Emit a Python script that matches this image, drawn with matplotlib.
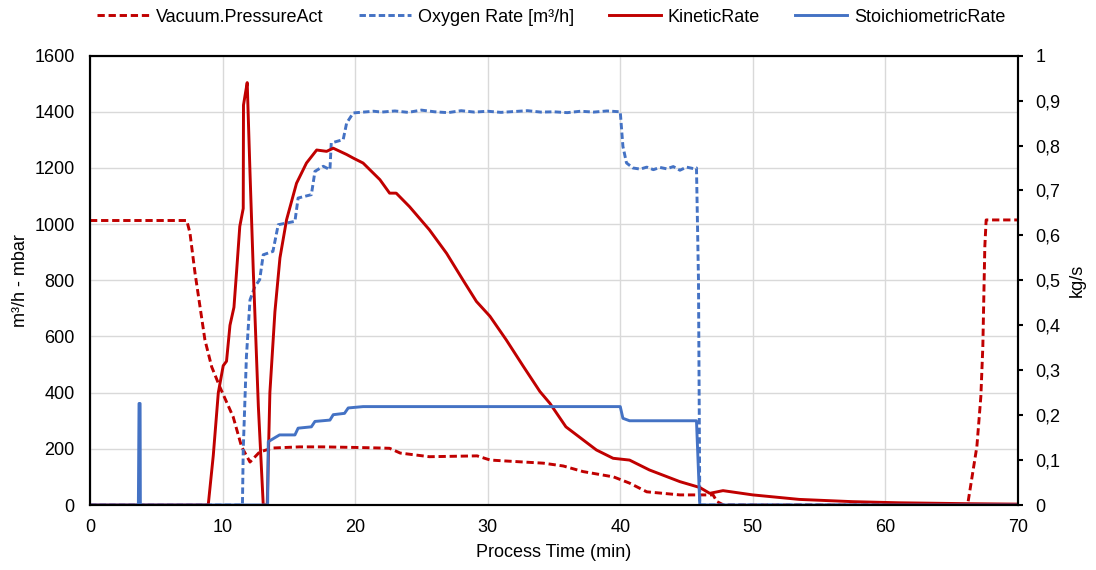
import matplotlib
matplotlib.use("Agg")
from matplotlib import pyplot as plt
from matplotlib.ticker import FuncFormatter

plt.rcParams["font.family"] = ["Liberation Sans", "DejaVu Sans"]

RED = "#C00000"
BLUE = "#4472C4"

# Vacuum.PressureAct (mbar, left axis)
vac_t = [0, 7.3, 7.54, 7.92, 8.3, 8.67, 9.18, 9.8, 10.8, 11.44, 12.07, 12.8, 13.8, 15.8,
         17.6, 20, 21.9, 22.6, 23.4, 25.6, 29.2, 30.2, 34.2, 35.7, 37.2, 39.5, 40.7, 42.0,
         44.5, 47.0, 47.3, 47.8, 66.2, 66.9, 67.2, 67.35, 67.5, 67.6, 70]
vac_p = [1013, 1013, 969, 827, 706, 588, 492, 420, 314, 207, 153, 189, 203, 207,
         207, 205, 203, 202, 185, 172, 175, 160, 149, 139, 119, 100, 78, 47,
         36, 36, 12, 0, 0, 208, 386, 564, 920, 1015, 1015]

# Oxygen Rate [m³/h] (left axis)
oxy_t = [0, 11.5, 11.56, 11.8, 12.07, 12.44, 12.8, 13.07, 13.8, 14.2, 15.46, 15.7, 16.7,
         16.97, 17.6, 18.1, 18.2, 19.1, 19.36, 19.86, 21.4, 22, 23, 24, 25, 26, 27, 28,
         29, 30, 31, 32, 33, 34, 35, 36, 37, 38, 39, 40.0, 40.2, 40.47, 40.96, 41.5, 42,
         42.5, 43, 43.5, 44, 44.5, 45, 45.5, 45.75, 45.9, 46.0, 70]
oxy_q = [0, 0, 196, 528, 730, 778, 802, 891, 903, 998, 1010, 1093, 1105,
         1188, 1206, 1194, 1289, 1301, 1360, 1396, 1402, 1399, 1403, 1398, 1406, 1400, 1397, 1404,
         1399, 1402, 1398, 1401, 1404, 1399, 1400, 1397, 1402, 1399, 1403, 1400, 1277, 1218, 1200, 1196, 1203,
         1194, 1202, 1197, 1205, 1192, 1203, 1198, 1200, 802, 0, 0]

# KineticRate (kg/s, right axis)
kin_t = [0, 8.92, 9.3, 9.68, 10.05, 10.3, 10.56, 10.86, 11.06, 11.3, 11.56, 11.58, 11.69,
         11.86, 12.07, 12.32, 12.7, 13.07, 13.37, 13.57, 13.95, 14.33, 14.83, 15.58, 16.33,
         17.1, 17.85, 18.35, 19.36, 19.86, 20.6, 21.87, 22.6, 23.1, 24.1, 25.6, 26.9, 28.15,
         29.15, 30.17, 31.4, 32.7, 33.94, 34.7, 35.9, 38.2, 39.46, 40.7, 42.2, 44.5, 46.0,
         46.75, 47.75, 50.0, 53.5, 57.5, 61.0, 66.1, 70]
kin_r = [0, 0, 0.11, 0.25, 0.31, 0.32, 0.40, 0.44, 0.52, 0.62, 0.66, 0.89, 0.91,
         0.94, 0.74, 0.52, 0.22, 0, 0, 0.25, 0.43, 0.55, 0.635, 0.716, 0.761,
         0.79, 0.787, 0.794, 0.78, 0.772, 0.761, 0.724, 0.694, 0.694, 0.664, 0.6125, 0.56, 0.50,
         0.453, 0.42, 0.3675, 0.308, 0.2525, 0.226, 0.174, 0.1225, 0.104, 0.10, 0.078, 0.052, 0.039,
         0.026, 0.032, 0.0225, 0.0125, 0.0075, 0.005, 0.003, 0.002]

# StoichiometricRate (kg/s, right axis)
sto_t = [0, 3.65, 3.7, 3.78, 3.8, 13.4, 13.45, 14.07, 14.3, 15.46, 15.7, 16.7, 16.97,
         18.1, 18.35, 19.2, 19.48, 20.6, 40.0, 40.2, 40.7, 45.75, 46.0, 70]
sto_r = [0, 0, 0.226, 0.226, 0, 0, 0.141, 0.152, 0.156, 0.156, 0.171, 0.174, 0.186,
         0.189, 0.201, 0.204, 0.216, 0.219, 0.219, 0.193, 0.1875, 0.1875, 0, 0]

fig = plt.figure(figsize=(10.96, 5.70), dpi=100)
ax = fig.add_axes([0.0821, 0.114, 0.8467, 0.7884])
ax2 = ax.twinx()

l1, = ax.plot(vac_t, vac_p, color=RED, lw=2.1, dashes=(2.5, 1.3), label="Vacuum.PressureAct")
l2, = ax.plot(oxy_t, oxy_q, color=BLUE, lw=2.1, dashes=(2.2, 1.1), label="Oxygen Rate [m³/h]")
l3, = ax2.plot(kin_t, kin_r, color=RED, lw=2.1, label="KineticRate")
l4, = ax2.plot(sto_t, sto_r, color=BLUE, lw=2.1, label="StoichiometricRate")

ax.set_xlim(0, 70)
ax.set_ylim(0, 1600)
ax2.set_ylim(0, 1)
ax.set_xticks(range(0, 71, 10))
ax.set_yticks(range(0, 1601, 200))
ax2.set_yticks([i / 10 for i in range(11)])
ax2.yaxis.set_major_formatter(FuncFormatter(lambda v, p: f"{v:g}".replace(".", ",")))

ax.grid(color="#d9d9d9", lw=1)
ax.set_axisbelow(True)
ax.tick_params(axis="y", length=0, labelsize=13, pad=11)
ax.tick_params(axis="x", length=0, labelsize=13, pad=10)
ax2.tick_params(axis="y", length=3.5, width=1.5, direction="out", labelsize=13, pad=9)
for a in (ax, ax2):
    for s in a.spines.values():
        s.set_color("black")
        s.set_linewidth(1.5)

ax.set_xlabel("Process Time (min)", fontsize=13, labelpad=6)
ax.set_ylabel("m³/h - mbar", fontsize=13, labelpad=4)
ax2.set_ylabel("kg/s", fontsize=13, labelpad=6)

fig.legend(handles=[l1, l2, l3, l4], loc="center", bbox_to_anchor=(0.503, 0.97), ncol=4,
           frameon=False, fontsize=13, handlelength=2.9, columnspacing=1.95, handletextpad=0.35)

fig.savefig("out.png", dpi=100)
